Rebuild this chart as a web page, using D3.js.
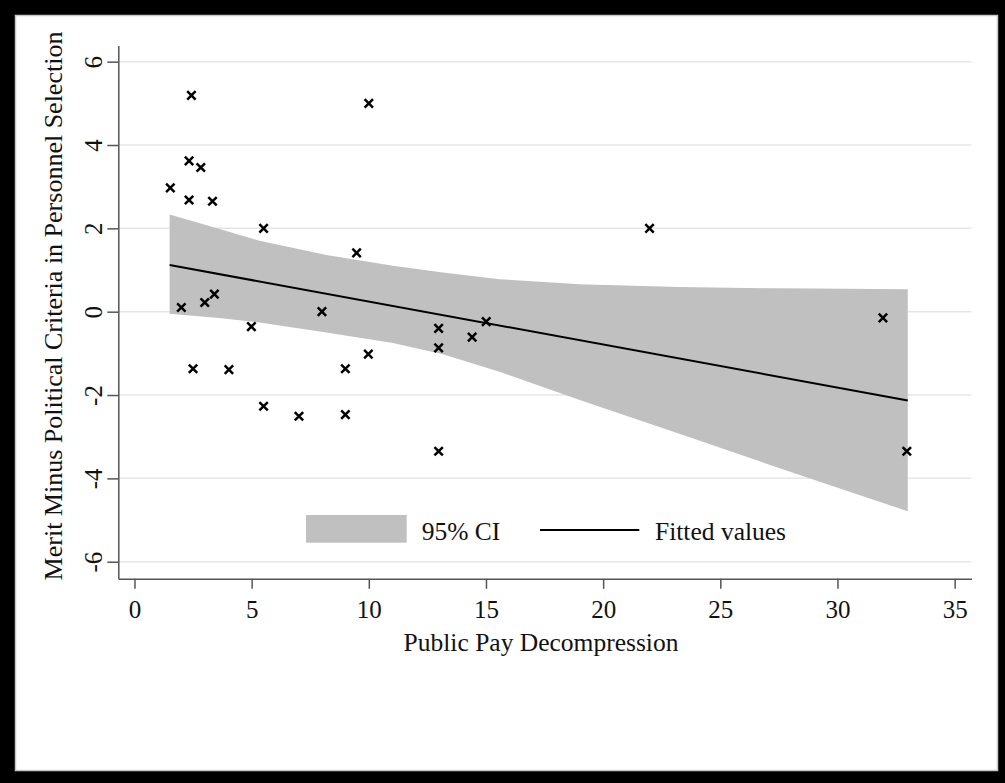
<!DOCTYPE html>
<html>
<head>
<meta charset="utf-8">
<script src="https://cdn.jsdelivr.net/npm/d3@7"></script>
<style>
  html, body { margin: 0; padding: 0; background: #000; }
  svg { display: block; }
  text { font-family: "Liberation Serif", "Times New Roman", serif; fill: #111; }
</style>
</head>
<body>
<div id="chart"></div>
<script>
// observations (x = pay decompression, y = merit minus political)
const pointsX = [1.53, 2.43, 2.33, 2.83, 2.33, 3.33, 2.0, 3.0, 3.41, 4.99, 5.51, 8.0, 9.48, 10.0,
                 2.5, 4.03, 5.51, 7.02, 9.0, 9.0, 9.98, 12.98, 12.98, 12.98, 14.41, 15.01, 21.98, 31.94, 32.96];
const pointsY = [2.97, 5.19, 3.62, 3.46, 2.68, 2.65, 0.1, 0.22, 0.42, -0.36, 2.0, 0.0, 1.41, 5.0,
                 -1.37, -1.39, -2.27, -2.51, -1.37, -2.47, -1.02, -0.4, -0.87, -3.35, -0.61, -0.24, 2.0, -0.15, -3.35];

// 95% CI band
const ciX     = [1.5, 3.6, 5.34, 8.19, 11.03, 13.16, 15.58, 19.0, 23.25, 27.5, 33.0];
const ciUpper = [2.33, 1.99, 1.70, 1.36, 1.10, 0.94, 0.78, 0.66, 0.59, 0.56, 0.54];
const ciLower = [-0.05, -0.15, -0.26, -0.50, -0.75, -1.02, -1.44, -2.12, -2.93, -3.75, -4.79];

// fitted line
const fitX = [1.5, 33];
const fitY = [1.12, -2.13];

const xTicks = [0, 5, 10, 15, 20, 25, 30, 35];
const yTicks = [-6, -4, -2, 0, 2, 4, 6];

const legendLabels = ['95% CI', 'Fitted values'];
const xTitle = 'Public Pay Decompression';
const yTitle = 'Merit Minus Political Criteria in Personnel Selection';

const width = 1005, height = 783;

const svg = d3.select('#chart')
    .append('svg')
    .attr('width', width)
    .attr('height', height);

// black frame + white page
svg.append('rect')
    .attr('width', width).attr('height', height)
    .attr('fill', '#000');
svg.append('rect')
    .attr('x', 15.5).attr('y', 15.5)
    .attr('width', 982).attr('height', 755)
    .attr('fill', '#fff')
    .attr('stroke', '#c8c8c8')
    .attr('stroke-width', 1.5);

const x = d3.scaleLinear().domain([-0.69, 35.72]).range([118.3, 971.5]);
const y = d3.scaleLinear().domain([-6.41, 6.39]).range([578.8, 45.4]);

// grid
svg.append('g')
    .selectAll('line')
    .data(yTicks)
    .enter()
    .append('line')
    .attr('x1', x.range()[0])
    .attr('x2', x.range()[1])
    .attr('y1', d => y(d))
    .attr('y2', d => y(d))
    .attr('stroke', '#e6e6e6')
    .attr('stroke-width', 1.5);

// CI band
const band = ciX.map((v, i) => ({ x: v, lo: ciLower[i], hi: ciUpper[i] }));
svg.append('path')
    .datum(band)
    .attr('d', d3.area()
        .x(d => x(d.x))
        .y0(d => y(d.lo))
        .y1(d => y(d.hi)))
    .attr('fill', '#c0c0c0');

// fitted line
svg.append('path')
    .datum(fitX.map((v, i) => [v, fitY[i]]))
    .attr('d', d3.line().x(d => x(d[0])).y(d => y(d[1])))
    .attr('fill', 'none')
    .attr('stroke', '#000')
    .attr('stroke-width', 2);

// markers
const m = 4.2;
svg.append('g')
    .selectAll('path')
    .data(pointsX.map((v, i) => [v, pointsY[i]]))
    .enter()
    .append('path')
    .attr('d', d => {
        const cx = x(d[0]), cy = y(d[1]);
        return `M${cx - m},${cy - m}L${cx + m},${cy + m}M${cx - m},${cy + m}L${cx + m},${cy - m}`;
    })
    .attr('stroke', '#000')
    .attr('stroke-width', 2.5)
    .attr('fill', 'none');

// axes
const fmt = d => String(d);

const xAxis = svg.append('g')
    .attr('transform', `translate(0,${y.range()[0]})`)
    .call(d3.axisBottom(x).tickValues(xTicks).tickFormat(fmt).tickSize(10).tickSizeOuter(0));
xAxis.selectAll('text')
    .attr('y', 39).attr('dy', null)
    .style('font-size', '25px');

const yAxis = svg.append('g')
    .attr('transform', `translate(${x.range()[0]},0)`)
    .call(d3.axisLeft(y).tickValues(yTicks).tickFormat(fmt).tickSize(11).tickSizeOuter(0));
yAxis.selectAll('text')
    .attr('x', null).attr('dy', null)
    .attr('text-anchor', 'middle')
    .attr('transform', 'translate(-16.5,0) rotate(-90)')
    .style('font-size', '25px');

[xAxis, yAxis].forEach(g => {
    g.attr('font-size', null).attr('font-family', null);
    g.select('.domain').attr('stroke', '#555').attr('stroke-width', 1.5);
    g.selectAll('.tick line').attr('stroke', '#555').attr('stroke-width', 1.5);
    g.selectAll('text').attr('fill', '#111');
});

// titles
svg.append('text')
    .attr('x', 541).attr('y', 651)
    .attr('text-anchor', 'middle')
    .style('font-size', '25.5px')
    .text(xTitle);

svg.append('text')
    .attr('transform', 'translate(61.5,306) rotate(-90)')
    .attr('text-anchor', 'middle')
    .style('font-size', '26px')
    .text(yTitle);

// legend
const legend = svg.append('g');
legend.append('rect')
    .attr('x', 306).attr('y', 515)
    .attr('width', 100.7).attr('height', 27.7)
    .attr('fill', '#c0c0c0');
legend.append('text')
    .attr('x', 421.7).attr('y', 540)
    .style('font-size', '25.5px')
    .text(legendLabels[0]);
legend.append('line')
    .attr('x1', 540).attr('x2', 639.3)
    .attr('y1', 530).attr('y2', 530)
    .attr('stroke', '#000')
    .attr('stroke-width', 2);
legend.append('text')
    .attr('x', 655).attr('y', 540)
    .style('font-size', '25.5px')
    .text(legendLabels[1]);
</script>
</body>
</html>
